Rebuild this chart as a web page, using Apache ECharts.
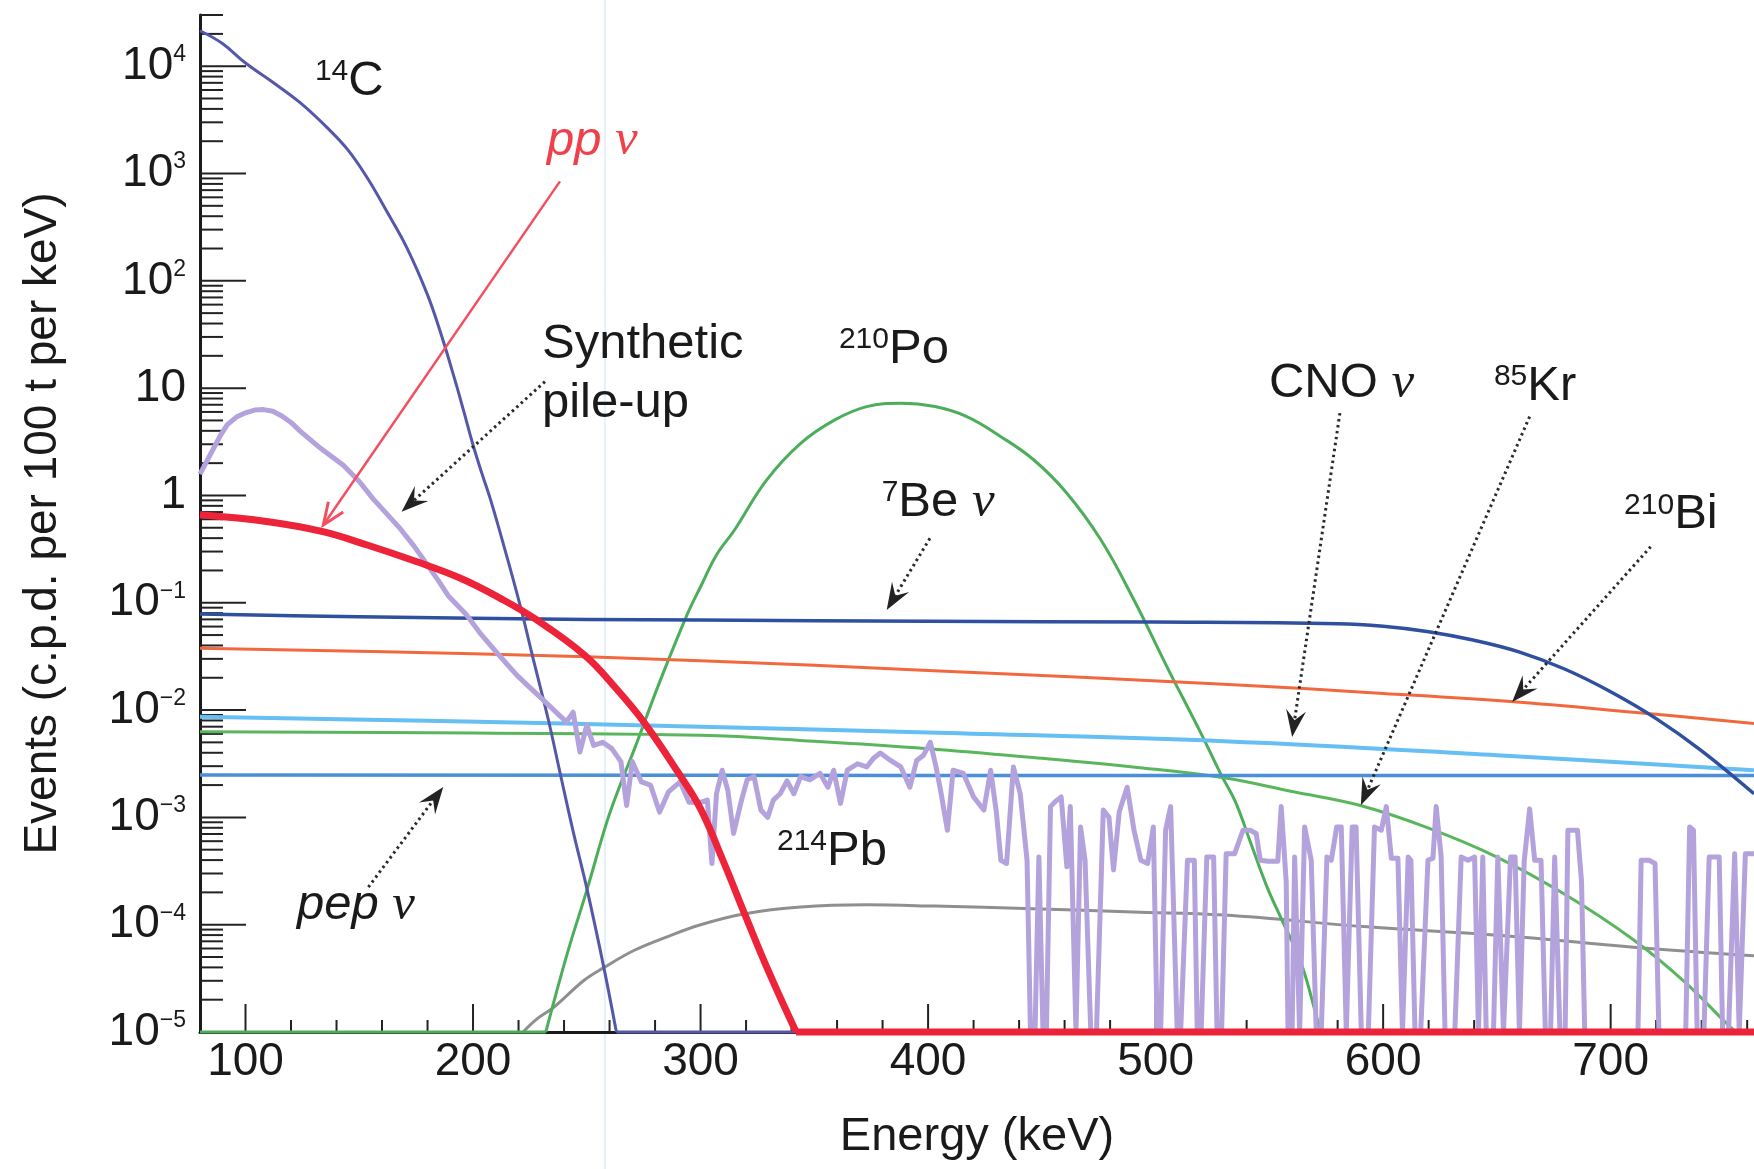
<!DOCTYPE html>
<html style="height: 100%">
  <head>
    <meta charset="UTF-8" />
    <title>Borexino energy spectrum</title>
    <script src="https://cdn.jsdelivr.net/npm/echarts/dist/echarts.min.js"></script>
  </head>
  <body style="height: 100%; margin: 0; background: #fff">
    <div id="main" style="width: 1754px; height: 1169px"></div>
    <script>
      var sans = 'Liberation Sans';
      var serif = 'Liberation Serif';

      // axis ranges (keV, c.p.d. per 100 t per keV)
      var xMin = 80, xMax = 763;
      var yMin = 1e-5, yMax = 3e4;
      var xMajorTicks = [100, 200, 300, 400, 500, 600, 700];
      var yMajorTicks = [1e-5, 1e-4, 1e-3, 1e-2, 1e-1, 1, 10, 100, 1000, 10000];

      // spectra: [energy, rate]
      var c14 = [[80, 21400], [90, 16200], [100, 10700], [112, 7080], [124, 4570], [136, 2660], [145, 1660],
        [153.5, 912], [162, 447], [171, 202], [180, 74], [186, 31.6], [192, 12], [196, 6.0], [200, 2.95],
        [204, 1.58], [208, 0.87], [215, 0.263], [221, 0.089], [227, 0.0269], [233, 0.0083], [238, 0.00275],
        [244, 0.00074], [250, 0.000219], [257.5, 0.0000398], [263, 1e-5], [763, 1e-5]];

      var ppNu = [[80, 0.66], [110, 0.569], [134, 0.46], [153.5, 0.345], [175, 0.242], [194.5, 0.169],
        [212, 0.11], [227, 0.0714], [249, 0.0325], [263, 0.0158], [275, 0.00776], [290, 0.00265],
        [300, 0.0012], [310, 0.00039], [320, 0.000117], [330, 0.0000363], [342, 1e-5], [763, 1e-5]];

      var be7Nu = [[80, 0.0785], [150, 0.0741], [250, 0.07], [300, 0.0689], [400, 0.0671], [500, 0.066],
        [580, 0.0638], [600, 0.0603], [620, 0.0537], [640, 0.0447], [660, 0.0347], [680, 0.024],
        [700, 0.0148], [720, 0.00832], [740, 0.00417], [763, 0.00166]];

      var bi210 = [[80, 0.0376], [200, 0.0335], [300, 0.0288], [400, 0.0234], [530, 0.0174], [600, 0.0143],
        [656, 0.012], [710, 0.00955], [763, 0.0075]];

      var cnoNu = [[80, 0.00865], [180, 0.00794], [300, 0.007], [400, 0.00617], [530, 0.00513],
        [650, 0.0038], [763, 0.00275]];

      var kr85 = [[80, 0.00627], [200, 0.0061], [300, 0.00582], [350, 0.00513], [400, 0.00437],
        [450, 0.00355], [490, 0.00295], [530, 0.00234], [560, 0.00174], [590, 0.00129], [620, 0.000794],
        [650, 0.000427], [680, 0.000191], [710, 0.0000724], [732, 0.00003], [751, 0.000012], [755, 1e-5],
        [763, 1e-5]];

      var pepNu = [[80, 0.00248], [400, 0.00246], [763, 0.00246]];

      var po210 = [[80, 1e-5], [232, 1e-5], [241.4, 0.0000537], [250, 0.000209], [259, 0.000933],
        [265, 0.00209], [271, 0.00437], [282, 0.0182], [294, 0.0767], [300, 0.141], [307, 0.279],
        [315, 0.479], [329, 1.39], [344, 3.06], [359, 5.06], [373, 6.73], [388, 7.24], [403, 6.73],
        [417, 5.43], [432, 3.53], [446.5, 2.14], [461, 1.05], [476, 0.384], [490.5, 0.106], [505, 0.0253],
        [520, 0.00604], [529, 0.00245], [535, 0.00141], [542, 0.000562], [549, 0.000224], [556, 0.000105],
        [564, 0.0000437], [572, 0.0000112], [573, 1e-5], [763, 1e-5]];

      var pb214 = [[222, 1e-5], [228, 0.0000132], [235.5, 0.000017], [248.7, 0.0000302], [257.5, 0.0000398],
        [270.7, 0.0000575], [285, 0.0000767], [300, 0.0001], [319, 0.000126], [344, 0.000146],
        [373, 0.000153], [403, 0.000149], [446, 0.000141], [490, 0.000131], [530, 0.000123],
        [593, 0.0000955], [652, 0.0000794], [710, 0.0000617], [763, 0.0000513]];

      var pileUp = [[80, 1.58], [83, 2.09], [86, 2.75], [89, 3.63], [92, 4.57], [96, 5.37], [100, 5.89],
        [104, 6.24], [108, 6.31], [112, 6.1], [116, 5.5], [120, 4.79], [124, 3.98], [133, 2.75], [143, 1.91],
        [150, 1.35], [156, 0.933], [162, 0.676], [168, 0.49], [174, 0.339], [180, 0.224], [185, 0.158],
        [189, 0.117], [193, 0.0955], [197, 0.0776], [203, 0.0525], [209, 0.0372], [214, 0.0282],
        [219, 0.0214], [225, 0.0162], [230, 0.0129], [236, 0.00977], [241, 0.00776],
        [244, 0.00955], [247, 0.00407], [250, 0.00724], [253, 0.00468], [257, 0.00501], [261, 0.00437],
        [265, 0.00331], [267.5, 0.00129], [270, 0.00331], [274, 0.00214], [278, 0.002], [282, 0.00112],
        [286, 0.00174], [291, 0.00214], [295, 0.00138], [300, 0.00138], [303, 0.00145], [305, 0.000372],
        [307, 0.00166], [309.5, 0.00275], [312, 0.00178], [314.5, 0.000708], [318, 0.00145], [320.5, 0.00224],
        [323.5, 0.0024], [326.5, 0.00117], [329.5, 0.001], [332, 0.00145], [335, 0.00166], [338, 0.00219],
        [341, 0.00166], [344, 0.0024], [348, 0.00224], [352.5, 0.00257], [356, 0.00191], [358.5, 0.00275],
        [361.5, 0.00135], [364.5, 0.00275], [369, 0.00316], [373, 0.00295], [376, 0.00355], [379, 0.00398],
        [383.5, 0.00339], [388, 0.00295], [392, 0.00191], [395, 0.00339], [398, 0.0038], [401, 0.00501],
        [403.5, 0.00295], [405.5, 0.00178], [408.5, 0.000759], [411, 0.00275], [415.5, 0.00257],
        [420, 0.00155], [424.5, 0.00117], [427.5, 0.00275], [430, 0.00112], [432, 0.000398],
        [434.5, 0.000372], [437.5, 0.00295], [440.5, 0.00166], [443.5, 0.000398],
        [445, 1e-5], [447, 1e-5], [448.7, 0.000427], [450.5, 1e-5], [452, 1e-5], [453.8, 0.00126],
        [456, 0.00141], [458.5, 0.00155], [461, 0.000347], [462.5, 0.00126], [465, 1e-5], [467, 0.000813],
        [469, 0.000398], [471.5, 1e-5], [474, 1e-5], [477, 0.00117], [479.5, 0.001], [481.5, 0.000324],
        [484, 0.00112], [487.5, 0.00191], [490.5, 0.000759], [493.5, 0.000398], [496.5, 0.000372],
        [499, 0.000813], [500.7, 1e-5], [502.2, 1e-5], [504.4, 0.000759], [506.6, 0.00126], [509.5, 1e-5],
        [511, 1e-5], [514, 0.000398], [517, 0.000398], [518.3, 1e-5], [520, 1e-5], [522.5, 0.000427],
        [525.5, 0.000427], [527, 1e-5], [529, 1e-5], [531, 0.000457], [534.7, 0.000457], [538.4, 0.000759],
        [541.5, 0.000759], [544.2, 0.000708], [546, 0.000398], [549.4, 0.00039], [553.7, 0.00039],
        [555.2, 0.00126], [557.4, 0.000251], [558.2, 1e-5], [560, 1e-5], [561.1, 0.000427], [563.3, 1e-5],
        [565.5, 0.000813], [568.4, 0.000398], [570.6, 1e-5], [572.8, 1e-5], [575.3, 0.000427],
        [577.2, 0.000398], [579.6, 0.000813], [581.6, 0.000813], [583.8, 1e-5], [586.4, 0.000813],
        [588.1, 0.000813], [590.4, 1e-5], [593.5, 1e-5], [596.2, 0.000813], [599.2, 0.000759],
        [601.4, 0.00126], [603.6, 0.000417], [606.5, 0.000417], [608.5, 1e-5], [611, 0.000427],
        [612.2, 0.000398], [614, 1e-5], [616.5, 1e-5], [619.7, 0.000398], [621.9, 0.000417], [623.3, 0.00126],
        [625.5, 0.000427], [627.2, 1e-5], [631.5, 1e-5], [634.3, 0.000427], [637.3, 0.000398],
        [640.2, 0.000427], [641.9, 1e-5], [643.8, 0.000427], [645.3, 1e-5], [648.5, 1e-5], [650.4, 0.000427],
        [652.9, 1e-5], [656, 0.000427], [658, 0.000427], [659.9, 1e-5], [662, 0.00039], [664.4, 0.0012],
        [666.6, 0.000398], [669.4, 0.000398], [671.3, 1e-5], [673.6, 1e-5], [675.4, 0.000427], [677.7, 1e-5],
        [680, 1e-5], [681.2, 0.000759], [683.4, 0.000759], [685.4, 0.000759], [687.2, 0.000251],
        [688.6, 1e-5], [712, 1e-5], [713.4, 0.000398], [716.9, 0.000398], [719.5, 0.000372], [721.2, 1e-5],
        [733, 1e-5], [734.7, 0.000813], [736.4, 0.000759], [738, 1e-5], [741, 1e-5], [743.3, 0.000427],
        [747.7, 0.000427], [749.2, 1e-5], [751.8, 1e-5], [754.5, 0.000457], [756.5, 1e-5], [759.2, 0.000457],
        [763, 0.000457]];

      // annotation anchors in data space (left edge / vertical middle of the text)
      var labels = [
        {at: [130.5, 7280], text: '{sup|14}{m|C}'},
        {at: [232.5, 2005], text: '{it|pp }{nu|ν}', color: '#f0404c'},
        {at: [230.3, 25.4], text: '{m|Synthetic}'},
        {at: [230.3, 7.13], text: '{m|pile-up}'},
        {at: [360.8, 22.8], text: '{sup|210}{m|Po}'},
        {at: [379.6, 0.861], text: '{sup|7}{m|Be }{nu|ν}'},
        {at: [549.8, 10.96], text: '{m|CNO }{nu|ν}'},
        {at: [648.7, 10.4], text: '{sup|85}{m|Kr}'},
        {at: [705.9, 0.658], text: '{sup|210}{m|Bi}'},
        {at: [333.6, 0.000483], text: '{sup|214}{m|Pb}'},
        {at: [122.6, 0.00015], text: '{it|pep }{nu|ν}'}
      ];
      var arrows = [
        {from: [238.2, 845], to: [134.2, 0.531], open: true},
        {from: [231.6, 11.5], to: [168.6, 0.706]},
        {from: [400.8, 0.399], to: [381.8, 0.0855]},
        {from: [581, 5.85], to: [560, 0.00562]},
        {from: [664.4, 5.43], to: [590.2, 0.0013]},
        {from: [717.6, 0.333], to: [656.7, 0.0119]},
        {from: [154, 0.000224], to: [186.9, 0.00192]}
      ];

      // tick marks drawn through the axes' own scales: [x, y, kind]
      var tickLength = [28, 12, 46, 23];
      var tickData = [];
      for (var e = 100; e <= 760; e += 20) {
        tickData.push([e, yMin, xMajorTicks.indexOf(e) >= 0 ? 0 : 1]);
      }
      yMajorTicks.forEach(function (v) {
        tickData.push([xMin, v, 2]);
        for (var m = 2; m <= 9; m++) {
          if (v * m <= yMax * 1.0001) tickData.push([xMin, v * m, 3]);
        }
      });

      // a spectrum that sits on the axis floor at either end is drawn as
      // straight floor pieces plus a smoothed curve in between
      function spectrum(name, data, color, width, smooth) {
        var n = data.length, a = 0, b = n - 1;
        var pieces = [];
        if (smooth) {
          while (a + 1 < n && data[a][1] === yMin && data[a + 1][1] === yMin) a++;
          while (b - 1 >= 0 && data[b][1] === yMin && data[b - 1][1] === yMin) b--;
        }
        if (a > 0) pieces.push([data.slice(0, a + 1), false]);
        pieces.push([data.slice(a, b + 1), smooth]);
        if (b < n - 1) pieces.push([data.slice(b), false]);
        return pieces.map(function (p) {
          return {
            name: name,
            type: 'line',
            data: p[0],
            showSymbol: false,
            symbol: 'none',
            clip: false,
            smooth: p[1] ? 0.4 : false,
            z: 3,
            lineStyle: {color: color, width: width, join: 'round'},
            itemStyle: {color: color}
          };
        });
      }

      var tickSeries = {
        type: 'custom',
        name: 'ticks',
        data: tickData,
        encode: {x: 0, y: 1},
        silent: true,
        z: 1,
        renderItem: function (params, api) {
          var kind = api.value(2);
          var p = api.coord([api.value(0), api.value(1)]);
          var len = tickLength[kind];
          var shape = kind < 2
            ? {x1: p[0], y1: p[1], x2: p[0], y2: p[1] - len}
            : {x1: p[0], y1: p[1], x2: p[0] + len, y2: p[1]};
          return {type: 'line', shape: shape, style: {stroke: '#222', lineWidth: 2}};
        }
      };

      var series = [tickSeries].concat(
        spectrum('214Pb', pb214, '#8f8f8f', 3, true),
        spectrum('210Po', po210, '#4cae5a', 3, true),
        spectrum('85Kr', kr85, '#5ab65c', 3, true),
        spectrum('pep', pepNu, '#4a8fd9', 3.5, true),
        spectrum('CNO', cnoNu, '#66bff2', 4, true),
        spectrum('210Bi', bi210, '#f2683e', 3, true),
        spectrum('7Be', be7Nu, '#2f4f9f', 3.5, true),
        spectrum('14C', c14, '#5557a8', 3, true),
        spectrum('pile-up', pileUp, '#b4a2dc', 5, false),
        spectrum('pp', ppNu, '#ec2339', 7, true)
      );

      var chart = echarts.init(document.getElementById('main'));

      chart.setOption({
        animation: false,
        backgroundColor: '#fff',
        textStyle: {fontFamily: sans},
        grid: {left: 200, right: 0, top: 15, bottom: 137, outerBoundsMode: 'none'},
        xAxis: {
          type: 'value',
          min: xMin,
          max: xMax,
          interval: 20,
          splitLine: {show: false},
          axisTick: {show: false},
          axisLine: {onZero: false, lineStyle: {color: '#1a1a1a', width: 3}},
          axisLabel: {
            margin: 7,
            fontSize: 46,
            color: '#1a1a1a',
            fontFamily: sans,
            formatter: function (v) {
              return xMajorTicks.indexOf(v) >= 0 ? String(v) : '';
            }
          },
          name: 'Energy (keV)',
          nameLocation: 'middle',
          nameGap: 82,
          nameTextStyle: {fontSize: 47, color: '#1a1a1a', fontFamily: sans}
        },
        yAxis: {
          type: 'log',
          logBase: 10,
          min: yMin,
          max: yMax,
          splitNumber: 10,
          splitLine: {show: false},
          axisTick: {show: false},
          axisLine: {show: true, lineStyle: {color: '#1a1a1a', width: 3}},
          axisLabel: {
            margin: 14,
            color: '#1a1a1a',
            formatter: function (v) {
              var lg = Math.log10(v);
              var k = Math.round(lg);
              if (Math.abs(lg - k) > 1e-6) return '';
              if (k === 0) return '{b|1}';
              if (k === 1) return '{b|10}';
              return '{b|10}{s|' + (k < 0 ? '\u2212' + (-k) : k) + '}';
            },
            rich: {
              b: {fontSize: 46, lineHeight: 46, fontFamily: sans, color: '#1a1a1a'},
              s: {fontSize: 23, lineHeight: 30, verticalAlign: 'top', fontFamily: sans, color: '#1a1a1a'}
            }
          },
          name: 'Events (c.p.d. per 100 t per keV)',
          nameLocation: 'middle',
          nameGap: 134,
          nameTextStyle: {fontSize: 46, color: '#1a1a1a', fontFamily: sans}
        },
        series: series
      });

      // annotations, placed from data coordinates
      function px(pt) {
        return chart.convertToPixel({gridIndex: 0}, pt);
      }
      var rich = {
        m: {fontSize: 49, lineHeight: 49, fontFamily: sans},
        sup: {fontSize: 30, lineHeight: 32, verticalAlign: 'top', fontFamily: sans},
        it: {fontSize: 49, lineHeight: 49, fontStyle: 'italic', fontFamily: sans},
        nu: {fontSize: 51, lineHeight: 49, fontStyle: 'italic', fontFamily: serif}
      };
      var graphics = [];

      // faint vertical scan line in the original figure
      var scanX = px([258, 1])[0];
      graphics.push({
        type: 'line', silent: true, z: 0,
        shape: {x1: scanX, y1: 0, x2: scanX, y2: 1169},
        style: {stroke: '#cfe0f5', lineWidth: 1}
      });

      labels.forEach(function (l) {
        var p = px(l.at);
        graphics.push({
          type: 'text', x: p[0], y: p[1], z: 50, silent: true,
          style: {text: l.text, rich: rich, fill: l.color || '#1a1a1a', align: 'left', verticalAlign: 'middle'}
        });
      });

      arrows.forEach(function (a) {
        var s = px(a.from), t = px(a.to);
        var dx = t[0] - s[0], dy = t[1] - s[1];
        var d = Math.sqrt(dx * dx + dy * dy);
        var ux = dx / d, uy = dy / d, nx = -uy, ny = ux;
        var L = a.open ? 22 : 27, W = a.open ? 9 : 10;
        var left = [t[0] - ux * L + nx * W, t[1] - uy * L + ny * W];
        var right = [t[0] - ux * L - nx * W, t[1] - uy * L - ny * W];
        if (a.open) {
          graphics.push({type: 'line', z: 50, silent: true, shape: {x1: s[0], y1: s[1], x2: t[0], y2: t[1]},
            style: {stroke: '#f25060', lineWidth: 2.5}});
          graphics.push({type: 'polyline', z: 50, silent: true, shape: {points: [left, t, right]},
            style: {stroke: '#f25060', lineWidth: 3, fill: 'none'}});
          return;
        }
        var back = [t[0] - ux * L * 0.62, t[1] - uy * L * 0.62];
        graphics.push({type: 'line', z: 50, silent: true, shape: {x1: s[0], y1: s[1], x2: back[0], y2: back[1]},
          style: {stroke: '#2a2a2a', lineWidth: 3, lineDash: [2.5, 3.5]}});
        graphics.push({type: 'polygon', z: 50, silent: true, shape: {points: [t, left, back, right]},
          style: {fill: '#222'}});
      });

      chart.setOption({graphic: graphics});
    </script>
  </body>
</html>
